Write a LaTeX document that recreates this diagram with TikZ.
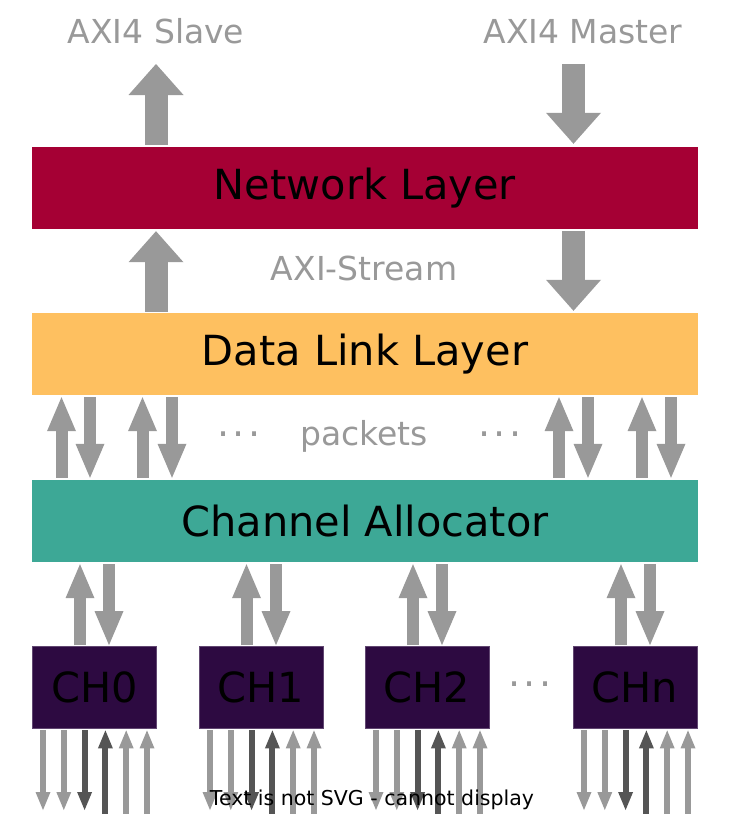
\documentclass[tikz,border=0pt]{standalone}
\usepackage{fontspec}
\setmainfont{DejaVu Sans}
\usetikzlibrary{arrows.meta}
\definecolor{netred}{HTML}{A50034}
\definecolor{dllyel}{HTML}{FEC060}
\definecolor{chteal}{HTML}{3DA896}
\definecolor{chpurp}{HTML}{2D0A41}
\definecolor{argray}{HTML}{999999}
\definecolor{ardark}{HTML}{555555}
\definecolor{lblgray}{HTML}{999999}
\begin{document}
\begin{tikzpicture}[x=1pt,y=-1pt,
  layer/.style={rectangle, minimum width=666pt, minimum height=82pt, inner sep=0pt, font=\fontsize{41.5}{50}\selectfont},
  chbox/.style={rectangle, fill=chpurp, draw=chpurp!75!white, line width=0.8pt, minimum width=124pt, minimum height=82pt, inner sep=0pt, font=\fontsize{41.5}{50}\selectfont},
  glabel/.style={text=lblgray, font=\fontsize{33}{40}\selectfont, inner sep=0pt, anchor=base},
  bigarr/.style={draw=argray, line width=23pt, -{Triangle[width=55pt,length=31pt,line width=0pt]}},
  medarr/.style={draw=argray, line width=12pt, -{Triangle[width=29pt,length=34pt,line width=0pt]}},
  thinarr/.style={line width=6pt, -{Triangle[width=15pt,length=18pt,line width=0pt]}},
  dotsl/.style={glabel, font=\fontsize{38}{44}\selectfont}
]
\useasboundingbox (0,0) rectangle (743,814);

% layers
\node[layer, fill=netred] (net) at (365,188) {Network Layer};
\node[layer, fill=dllyel] (dll) at (365,354) {Data Link Layer};
\node[layer, fill=chteal] (ca) at (365,521) {Channel Allocator};

% channels
\node[chbox] (ch0) at (94.5,687.5) {CH0};
\node[chbox] (ch1) at (261,687.5) {CH1};
\node[chbox] (ch2) at (427,687.5) {CH2};
\node[chbox] (chn) at (635,687.5) {CHn};

% labels
\node[glabel] (slave) at (156,43) {AXI4 Slave};
\node[glabel] (master) at (583,43) {AXI4 Master};
\node[glabel] (axis) at (364,280) {AXI-Stream};
\node[glabel] (pk) at (364,445) {packets};
\node[dotsl] (dl) at (239,436) {.\hspace{3.6pt}.\hspace{3.6pt}.};
\node[dotsl] (dr) at (500,436) {.\hspace{3.6pt}.\hspace{3.6pt}.};
\node[dotsl] (dc) at (530,686) {.\hspace{3.6pt}.\hspace{3.6pt}.};

% top free ends
\coordinate (slaveend) at (156,64);
\coordinate (masterend) at (573.5,64);

% AXI4 arrows
\draw[bigarr, shorten <=2pt] (net.north -| slaveend) -- (slaveend);
\draw[bigarr, shorten >=3pt] (masterend) -- (net.north -| masterend);

% AXI-Stream arrows
\draw[bigarr, shorten <=1pt, shorten >=2pt] (dll.north -| slaveend) -- (net.south -| slaveend);
\draw[bigarr, shorten <=2pt, shorten >=2pt] (net.south -| masterend) -- (dll.north -| masterend);

% packet arrows
\foreach \x in {61.5,142.5,559,642}
  \draw[medarr, shorten <=2pt, shorten >=2pt] (ca.north -| \x,0) -- (dll.south -| \x,0);
\foreach \x in {90,172,588,671}
  \draw[medarr, shorten <=2pt, shorten >=2pt] (dll.south -| \x,0) -- (ca.north -| \x,0);

% channel arrows
\foreach \c/\u/\d in {ch0/80/109, ch1/246.5/276, ch2/413/442, chn/621/650} {
  \draw[medarr, shorten <=1pt, shorten >=2pt] (\c.north -| \u,0) -- (ca.south -| \u,0);
  \draw[medarr, shorten <=2pt, shorten >=1pt] (ca.south -| \d,0) -- (\c.north -| \d,0);
}

% pin arrows
\foreach \c/\l in {ch0/32, ch1/199, ch2/365, chn/573} {
  \foreach \k/\col in {0/argray, 1/argray, 2/ardark} {
    \pgfmathsetmacro{\xx}{\l+11+20.8*\k}
    \coordinate (e\c\k) at (\xx,810);
    \draw[thinarr, draw=\col, shorten <=1.5pt] (\c.south -| \xx,0) -- (e\c\k);
  }
  \foreach \k/\col in {3/ardark, 4/argray, 5/argray} {
    \pgfmathsetmacro{\xx}{\l+11+20.8*\k}
    \coordinate (e\c\k) at (\xx,815);
    \draw[thinarr, draw=\col, shorten >=1.5pt] (e\c\k) -- (\c.south -| \xx,0);
  }
}

\node[font=\fontsize{20.5}{24}\selectfont, anchor=base, inner sep=0pt] (note) at (372,805) {Text is not SVG - cannot display};
\end{tikzpicture}
\end{document}
